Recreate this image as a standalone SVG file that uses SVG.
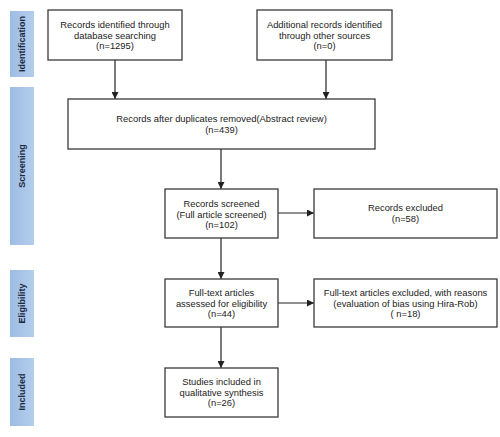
<svg xmlns="http://www.w3.org/2000/svg" width="500" height="437" viewBox="0 0 500 437">
<defs>
<linearGradient id="side" x1="0" y1="0" x2="1" y2="0">
<stop offset="0" stop-color="#9dbce3"/>
<stop offset="1" stop-color="#b4cdec"/>
</linearGradient>
<marker id="ah" viewBox="0 0 10 10" refX="10" refY="5" markerWidth="7" markerHeight="7" markerUnits="userSpaceOnUse" orient="auto">
<path d="M0,0 L10,5 L0,10 z" fill="#222"/>
</marker>
</defs>
<style>
.box{fill:#fff;stroke:#3a3a3a;stroke-width:1.3}
.t{font-family:"Liberation Sans","Noto Sans",Arial,sans-serif;font-size:9.4px;fill:#222;text-anchor:middle}
.side{fill:url(#side)}
.st{font-family:"Liberation Sans","Noto Sans",Arial,sans-serif;font-size:9px;font-weight:bold;fill:#1c2a3e;text-anchor:middle}
.c{stroke:#222;stroke-width:1.2;fill:none;marker-end:url(#ah)}
</style>
<rect width="500" height="437" fill="#fff"/>
<g id="stage-identification"><rect class="side" x="10" y="11" width="24" height="66"/><text class="st" transform="translate(25,44) rotate(-90)">Identification</text></g>
<g id="stage-screening"><rect class="side" x="10" y="87" width="24" height="158"/><text class="st" transform="translate(25,166) rotate(-90)">Screening</text></g>
<g id="stage-eligibility"><rect class="side" x="10" y="270" width="24" height="67"/><text class="st" transform="translate(25,303.5) rotate(-90)">Eligibility</text></g>
<g id="stage-included"><rect class="side" x="10" y="358" width="24" height="68"/><text class="st" transform="translate(25,392) rotate(-90)">Included</text></g>

<g id="connectors">
<line class="c" x1="115" y1="60" x2="115" y2="99"/>
<line class="c" x1="326" y1="60" x2="326" y2="99"/>
<line class="c" x1="221" y1="149" x2="221" y2="189"/>
<line class="c" x1="278" y1="213" x2="314" y2="213"/>
<line class="c" x1="221" y1="238" x2="221" y2="279"/>
<line class="c" x1="278" y1="303" x2="314" y2="303"/>
<line class="c" x1="221" y1="327" x2="221" y2="368"/>
</g>

<g id="n1"><rect class="box" x="48" y="10" width="134" height="50"/>
<text class="t" x="115" y="28">Records identified through</text>
<text class="t" x="115" y="38.5">database searching</text>
<text class="t" x="115" y="49">(n=1295)</text></g>
<g id="n2"><rect class="box" x="257" y="10" width="135" height="50"/>
<text class="t" x="324.5" y="28">Additional records identified</text>
<text class="t" x="324.5" y="38.5">through other sources</text>
<text class="t" x="324.5" y="49">(n=0)</text></g>
<g id="n3"><rect class="box" x="68" y="99" width="307" height="50"/>
<text class="t" x="221.5" y="122">Records after duplicates removed(Abstract review)</text>
<text class="t" x="221.5" y="133">(n=439)</text></g>
<g id="n4"><rect class="box" x="165" y="189" width="113" height="49"/>
<text class="t" x="221.5" y="207">Records screened</text>
<text class="t" x="221.5" y="217.5">(Full article screened)</text>
<text class="t" x="221.5" y="228">(n=102)</text></g>
<g id="n5"><rect class="box" x="314" y="189" width="183" height="49"/>
<text class="t" x="405.5" y="211">Records excluded</text>
<text class="t" x="405.5" y="222">(n=58)</text></g>
<g id="n6"><rect class="box" x="165" y="279" width="113" height="48"/>
<text class="t" x="221.5" y="296">Full-text articles</text>
<text class="t" x="221.5" y="306.5">assessed for eligibility</text>
<text class="t" x="221.5" y="317">(n=44)</text></g>
<g id="n7"><rect class="box" x="314" y="279" width="183" height="48"/>
<text class="t" x="405.5" y="296">Full-text articles excluded, with reasons</text>
<text class="t" x="405.5" y="306.5">(evaluation of bias using Hira-Rob)</text>
<text class="t" x="405.5" y="317">( n=18)</text></g>
<g id="n8"><rect class="box" x="165" y="368" width="113" height="49"/>
<text class="t" x="221.5" y="385">Studies included in</text>
<text class="t" x="221.5" y="395.5">qualitative synthesis</text>
<text class="t" x="221.5" y="406">(n=26)</text></g>
</svg>
